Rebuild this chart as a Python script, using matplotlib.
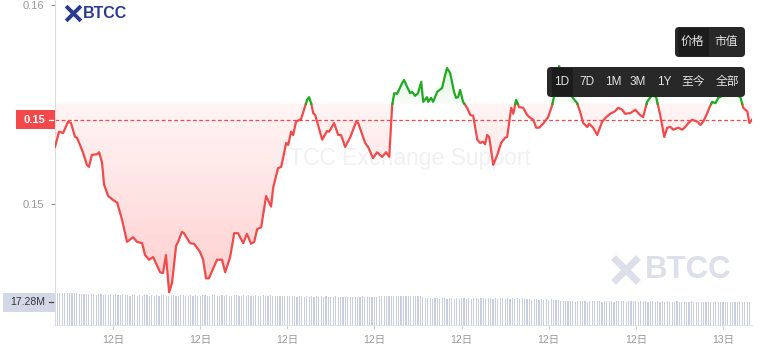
import matplotlib
matplotlib.use("Agg")
import matplotlib.pyplot as plt
import numpy as np
from matplotlib.path import Path
from matplotlib.patches import PathPatch, FancyBboxPatch, Rectangle
from matplotlib.lines import Line2D
from matplotlib.transforms import IdentityTransform

plt.rcParams['font.family'] = ['Liberation Sans', 'Noto Sans CJK SC', 'DejaVu Sans']

# ---------------- data ----------------
# hours since 12日 00:00
times_h = [1.00, 1.14, 1.28, 1.45, 1.55, 1.69, 1.76, 1.86, 1.96, 2.10, 2.17, 2.27, 2.45, 2.52, 2.62, 2.69, 2.83,
           3.00, 3.14, 3.31, 3.48, 3.69, 3.82, 4.00, 4.10, 4.24, 4.38, 4.62, 4.72, 4.82, 4.93, 5.03, 5.17, 5.24,
           5.37, 5.44, 5.65, 5.79, 5.99, 6.10, 6.20, 6.30, 6.58, 6.75, 6.86, 7.03, 7.17, 7.30, 7.48, 7.61, 7.75,
           7.86, 7.96, 8.10, 8.27, 8.44, 8.51, 8.68, 8.79, 8.96, 9.03, 9.13, 9.20, 9.30, 9.47, 9.54, 9.68, 9.75,
           9.82, 9.89, 9.96, 10.20, 10.37, 10.44, 10.61, 10.75, 10.85, 10.99, 11.16, 11.37, 11.44, 11.68, 11.78,
           11.95, 12.09, 12.26, 12.40, 12.51, 12.61, 12.68, 12.78, 12.95, 13.02, 13.13, 13.23, 13.30, 13.40,
           13.50, 13.61, 13.68, 13.81, 13.85, 13.95, 14.02, 14.16, 14.33, 14.43, 14.50, 14.61, 14.74, 14.81,
           14.88, 14.95, 15.05, 15.19, 15.30, 15.40, 15.54, 15.64, 15.74, 15.81, 15.88, 15.95, 16.09, 16.23,
           16.36, 16.50, 16.57, 16.71, 16.78, 16.88, 16.98, 17.12, 17.26, 17.36, 17.47, 17.57, 17.67, 17.81,
           17.98, 18.12, 18.19, 18.29, 18.36, 18.50, 18.67, 18.81, 18.98, 19.08, 19.19, 19.33, 19.39, 19.53,
           19.67, 19.84, 19.98, 20.12, 20.29, 20.39, 20.53, 20.63, 20.81, 20.98, 21.15, 21.25, 21.39, 21.50,
           21.60, 21.70, 21.84, 21.98, 22.08, 22.19, 22.29, 22.46, 22.60, 22.70, 22.81, 22.94, 23.12, 23.22,
           23.32, 23.46, 23.53, 23.63, 23.74, 23.84, 23.98, 24.18, 24.39, 24.60, 24.70, 24.84, 24.91, 25.00]
prices = [0.15386, 0.15409, 0.15407, 0.15424, 0.15422, 0.15401, 0.15400, 0.15389, 0.15378, 0.15359, 0.15356,
          0.15374, 0.15375, 0.15378, 0.15362, 0.15329, 0.15312, 0.15306, 0.15302, 0.15276, 0.15243, 0.15250,
          0.15243, 0.15241, 0.15223, 0.15216, 0.15220, 0.15197, 0.15196, 0.15223, 0.15167, 0.15181, 0.15237,
          0.15243, 0.15258, 0.15256, 0.15241, 0.15240, 0.15228, 0.15216, 0.15188, 0.15188, 0.15216, 0.15216,
          0.15197, 0.15220, 0.15256, 0.15256, 0.15241, 0.15255, 0.15240, 0.15243, 0.15262, 0.15265, 0.15312,
          0.15296, 0.15324, 0.15354, 0.15356, 0.15392, 0.15389, 0.15409, 0.15404, 0.15424, 0.15428, 0.15437,
          0.15457, 0.15461, 0.15452, 0.15437, 0.15434, 0.15397, 0.15410, 0.15409, 0.15422, 0.15404, 0.15404,
          0.15386, 0.15400, 0.15424, 0.15422, 0.15392, 0.15386, 0.15369, 0.15378, 0.15371, 0.15378, 0.15371,
          0.15449, 0.15467, 0.15466, 0.15482, 0.15487, 0.15476, 0.15467, 0.15469, 0.15463, 0.15467, 0.15484,
          0.15454, 0.15461, 0.15454, 0.15460, 0.15454, 0.15469, 0.15475, 0.15494, 0.15505, 0.15497, 0.15469,
          0.15460, 0.15461, 0.15472, 0.15454, 0.15445, 0.15434, 0.15433, 0.15397, 0.15392, 0.15394, 0.15390,
          0.15404, 0.15401, 0.15359, 0.15374, 0.15392, 0.15400, 0.15401, 0.15445, 0.15436, 0.15457, 0.15446,
          0.15445, 0.15434, 0.15430, 0.15427, 0.15415, 0.15415, 0.15421, 0.15431, 0.15449, 0.15464, 0.15494,
          0.15508, 0.15487, 0.15472, 0.15461, 0.15452, 0.15439, 0.15422, 0.15416, 0.15421, 0.15415, 0.15404,
          0.15424, 0.15431, 0.15436, 0.15440, 0.15445, 0.15442, 0.15436, 0.15437, 0.15442, 0.15434, 0.15431,
          0.15454, 0.15461, 0.15464, 0.15461, 0.15434, 0.15401, 0.15415, 0.15416, 0.15412, 0.15415, 0.15412,
          0.15416, 0.15422, 0.15427, 0.15424, 0.15419, 0.15424, 0.15437, 0.15445, 0.15454, 0.15452, 0.15460,
          0.15463, 0.15467, 0.15466, 0.15461, 0.15445, 0.15439, 0.15422, 0.15427]
base_price = 0.15451      # reference (open) price: red below, green above

# 5-minute volumes (millions), from 12日 01:00
volumes_m = [
    24.1, 24.3, 24.0, 23.8, 24.2, 24.0, 23.9, 24.1, 23.7, 23.9, 23.6, 23.2, 23.0, 23.1, 22.9, 23.2, 23.0, 22.8, 23.1, 23.0, 22.9, 23.1, 22.8, 23.0,
    22.9, 23.0, 22.7, 22.9, 23.0, 22.8, 22.3, 22.1, 22.4, 22.2, 22.0, 22.3, 22.1, 22.2, 22.4, 22.0, 22.2, 22.1, 22.3, 22.0, 22.2, 22.4, 22.1, 22.0,
    22.2, 22.3, 22.0, 22.1, 22.4, 22.2, 21.9, 22.1, 22.3, 22.0, 22.2, 22.1, 22.0, 22.3, 22.2, 21.9, 22.1, 22.4, 22.2, 22.0, 22.1, 22.3, 22.0, 22.2,
    22.1, 22.0, 22.3, 22.2, 21.9, 22.1, 22.2, 22.0, 22.3, 22.1, 21.9, 22.2, 22.0, 22.1, 22.3, 22.0, 21.9, 22.2, 22.1, 22.0, 21.8, 22.1, 22.0, 21.9,
    22.0, 21.8, 21.5, 21.6, 21.4, 21.5, 21.7, 21.4, 21.5, 21.3, 21.6, 21.4, 21.5, 21.3, 21.6, 21.4, 21.5, 21.2, 21.4, 21.3, 21.5, 21.2, 21.4, 21.3,
    21.2, 21.4, 21.3, 21.1, 21.4, 21.2, 21.3, 21.5, 21.2, 21.3, 21.1, 21.4, 21.2, 21.3, 21.5, 21.8, 22.0, 21.7, 21.9, 22.1, 21.8, 21.7, 22.0, 21.8,
    21.9, 21.7, 21.8, 22.0, 21.6, 21.8, 21.7, 21.5, 21.3, 20.2, 20.0, 20.1, 19.9, 20.2, 20.0, 19.8, 20.1, 20.0, 19.9, 20.2, 20.0, 19.8, 20.1, 19.9,
    20.0, 20.1, 19.9, 20.2, 19.8, 20.0, 20.1, 19.9, 20.0, 20.2, 19.8, 20.0, 20.1, 19.9, 20.0, 19.8, 20.1, 20.0, 19.9, 20.1, 19.8, 20.0, 19.9, 20.0,
    19.9, 20.0, 19.8, 19.9, 19.3, 19.1, 19.2, 19.4, 19.1, 19.2, 19.0, 19.3, 19.1, 19.2, 19.0, 19.1, 18.8, 18.0, 17.8, 17.9, 17.7, 17.9, 17.8, 17.6,
    17.8, 17.9, 17.7, 17.8, 17.6, 17.9, 17.8, 17.7, 17.9, 17.8, 17.6, 17.8, 17.7, 17.9, 17.8, 17.6, 17.8, 17.9, 17.7, 17.8, 17.6, 17.8, 17.7, 17.9,
    17.8, 17.6, 17.7, 17.9, 17.8, 17.6, 17.7, 17.8, 17.5, 17.7, 17.6, 17.8, 17.5, 17.7, 17.6, 17.4, 17.6, 17.7, 17.5, 17.6, 17.4, 17.6, 17.5, 17.7,
    17.5, 17.4, 17.6, 17.5, 17.3, 17.5, 17.4, 17.6, 17.4, 17.3, 17.5, 17.4, 17.3, 17.5, 17.4, 17.2, 17.4, 17.3, 17.5, 17.3, 17.4, 17.2, 17.3, 17.28]
volume_start_h = 1.0
volume_step_h = 5 / 60

y_ticks = [0.156, 0.153]
x_ticks_h = [3, 6, 9, 12, 15, 18, 21, 24]
x_tick_labels = [f"{12 + h // 24}日" for h in x_ticks_h]
toggle_labels = ["价格", "市值"]
range_labels = ["1D", "7D", "1M", "3M", "1Y", "至今", "全部"]

# ---------------- figure ----------------
W, H = 764, 358
fig = plt.figure(figsize=(W / 100, H / 100), dpi=100)
fig.patch.set_facecolor('white')


def rect(l, t, r, b):
    return [l / W, 1 - b / H, (r - l) / W, (b - t) / H]


RED = '#f24a4a'
GREEN = '#1faa1f'

vax = fig.add_axes(rect(55, 0, 752, 325))
ax = fig.add_axes(rect(55, 0, 752, 325))
ax.set_facecolor('none')

XLIM = (1.0, 25.0)
YLIM = (0.151176, 0.156075)

# bottom-right watermark logo (behind everything)
WM = '#dde0ea'
fig.add_artist(Line2D([616, 636], [H - 260, H - 280], transform=IdentityTransform(), color=WM, lw=5, zorder=-1))
fig.add_artist(Line2D([636, 616], [H - 260, H - 280], transform=IdentityTransform(), color=WM, lw=5, zorder=-1))
fig.text(645 / W, 1 - 270 / H, "BTCC", ha='left', va='center', fontsize=22.5, fontweight='bold',
         color=WM, zorder=-1)

# volume bars
vtimes = volume_start_h + volume_step_h * np.arange(len(volumes_m))
vax.bar(vtimes, volumes_m, width=volume_step_h * 0.48, color='#c9cee2', align='center')
vax.set_xlim(*XLIM)
vax.set_ylim(0, 244.2)
vax.axis('off')

t = np.array(times_h)
p = np.array(prices)
ax.set_xlim(*XLIM)
ax.set_ylim(*YLIM)


# gradient fills clipped to the area between line and base price
def grad_fill(where, rgb, a_lo, a_hi, p_lo, p_hi):
    coll = ax.fill_between(t, p, base_price, where=where, interpolate=True,
                           facecolor='none', edgecolor='none')
    paths = coll.get_paths()
    if not paths:
        return
    cp = Path.make_compound_path(*paths)
    patch = PathPatch(cp, transform=ax.transData, facecolor='none', edgecolor='none')
    ax.add_patch(patch)
    ys = np.linspace(YLIM[0], YLIM[1], 400)
    frac = np.clip((ys - p_lo) / (p_hi - p_lo), 0, 1)
    alpha = a_lo + (a_hi - a_lo) * frac
    img = np.zeros((400, 2, 4))
    img[..., 0] = rgb[0]
    img[..., 1] = rgb[1]
    img[..., 2] = rgb[2]
    img[..., 3] = alpha[:, None]
    im = ax.imshow(img, extent=[XLIM[0], XLIM[1], YLIM[0], YLIM[1]], origin='lower',
                   aspect='auto', zorder=1, interpolation='bilinear')
    im.set_clip_path(patch)


grad_fill(p <= base_price, (1.0, 0.31, 0.31), 0.27, 0.06, 0.15167, base_price)
grad_fill(p >= base_price, (0.12, 0.70, 0.12), 0.03, 0.15, base_price, 0.15508)

# watermark text (above fill, below line)
ax.text(402, H - 158, "BTCC Exchange Support", transform=IdentityTransform(), ha='center', va='center',
        fontsize=16.5, color='#f1f1f1', zorder=2)

# line split into red / green at the base price
tt, pp = [], []
for i in range(len(t) - 1):
    tt.append(t[i]); pp.append(p[i])
    if (p[i] - base_price) * (p[i + 1] - base_price) < 0:
        f = (base_price - p[i]) / (p[i + 1] - p[i])
        tt.append(t[i] + f * (t[i + 1] - t[i])); pp.append(base_price)
tt.append(t[-1]); pp.append(p[-1])
tt = np.array(tt); pp = np.array(pp)
red_y = np.where(pp <= base_price + 1e-9, pp, np.nan)
green_y = np.where(pp >= base_price - 1e-9, pp, np.nan)
ax.plot(tt, red_y, color=RED, lw=1.6, zorder=3, solid_joinstyle='round')
ax.plot(tt, green_y, color=GREEN, lw=1.6, zorder=3, solid_joinstyle='round')

current = prices[-1]
ax.axhline(current, color=RED, lw=0.9, ls=(0, (3, 2)), zorder=2.5)

# axes styling
for s in ['top', 'right']:
    ax.spines[s].set_visible(False)
ax.spines['left'].set_color('#dcdcdc')
ax.spines['bottom'].set_color('#e2e2e2')
ax.set_yticks(y_ticks)
ax.set_yticklabels([f"{v:.2f}" for v in y_ticks])
ax.tick_params(axis='y', length=3, width=0.8, color='#888888', labelcolor='#999999',
               labelsize=8, pad=5)
ax.set_xticks(x_ticks_h)
ax.set_xticklabels(x_tick_labels)
ax.tick_params(axis='x', length=3, width=0.8, color='#d0d0d0', labelcolor='#999999',
               labelsize=7.5, pad=4)

# current price label
yc = ax.transData.transform((5, current))[1]
fig.add_artist(Rectangle((16, yc - 9.5), 39, 19, transform=IdentityTransform(),
                         facecolor='#f5484a', edgecolor='none', zorder=5))
fig.add_artist(Line2D([49, 53], [yc, yc], transform=IdentityTransform(), color='white', lw=0.9, zorder=6))
fig.text(45 / W, yc / H, f"{current:.2f}", ha='right', va='center', fontsize=8,
         fontweight='bold', color='white', zorder=6)

# volume label
yv = vax.transData.transform((5, volumes_m[-1]))[1]
fig.add_artist(Rectangle((3, yv - 9.5), 52, 19, transform=IdentityTransform(),
                         facecolor='#d3d8e6', edgecolor='none', zorder=5))
fig.add_artist(Line2D([49, 53], [yv, yv], transform=IdentityTransform(), color='#444444', lw=0.9, zorder=6))
fig.text(45 / W, yv / H, f"{volumes_m[-1]:.2f}M", ha='right', va='center', fontsize=7.5,
         color='#333333', zorder=6)

# top-left logo
NAVY = '#2a3b8f'
fig.add_artist(Line2D([67.5, 79.5], [H - 7.5, H - 19.5], transform=IdentityTransform(), color=NAVY, lw=2.8, zorder=6))
fig.add_artist(Line2D([79.5, 67.5], [H - 7.5, H - 19.5], transform=IdentityTransform(), color=NAVY, lw=2.8, zorder=6))
fig.text(83 / W, 1 - 14 / H, "BTCC", ha='left', va='center', fontsize=11.5, fontweight='bold',
         color=NAVY, zorder=6)


# buttons
def box(l, t, r, b, fc, z=10, rs=4):
    fig.add_artist(FancyBboxPatch((l, H - b), r - l, b - t, boxstyle=f'round,pad=0,rounding_size={rs}',
                                  transform=IdentityTransform(), facecolor=fc, edgecolor='none', zorder=z))


box(675, 27, 745, 57, '#282828')
box(678, 28, 709, 56, '#1c1c1c', z=11, rs=2)
for lbl, cx in zip(toggle_labels, [692, 726]):
    fig.text(cx / W, 1 - 42 / H, lbl, ha='center', va='center', fontsize=8.5, color='#e4e4e4', zorder=12)

box(547, 67, 745, 97, '#282828')
box(552, 68, 573, 96, '#1c1c1c', z=11, rs=2)
for lbl, cx in zip(range_labels, [562, 587, 613, 638, 664, 693, 727]):
    fig.text(cx / W, 1 - 82 / H, lbl, ha='center', va='center', fontsize=8.5, color='#e4e4e4', zorder=12)

fig.savefig('out.png', dpi=100, facecolor='white')
